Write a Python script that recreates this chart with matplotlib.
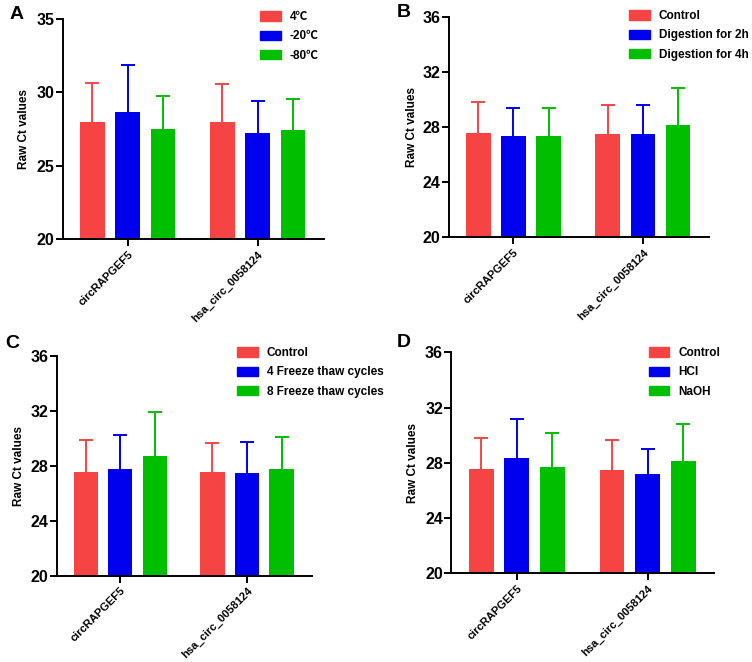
import matplotlib
matplotlib.use("Agg")
import matplotlib.pyplot as plt
import numpy as np
from matplotlib.patches import Patch

plt.rcParams['font.family'] = ['Liberation Sans', 'Noto Sans CJK SC', 'DejaVu Sans']
plt.rcParams['font.weight'] = 'bold'

genes = ["circRAPGEF5", "hsa_circ_0058124"]
colors = ["#F64444", "#0000EE", "#00BE00"]

# Panel A
labels_a = ["4℃", "-20℃", "-80℃"]
means_a = [[28.0, 27.98], [28.69, 27.22], [27.53, 27.42]]
tops_a = [[30.64, 30.6], [31.87, 29.39], [29.78, 29.53]]
# Panel B
labels_b = ["Control", "Digestion for 2h", "Digestion for 4h"]
means_b = [[27.54, 27.49], [27.35, 27.49], [27.35, 28.14]]
tops_b = [[29.79, 29.62], [29.4, 29.62], [29.4, 30.85]]
# Panel C
labels_c = ["Control", "4 Freeze thaw cycles", "8 Freeze thaw cycles"]
means_c = [[27.56, 27.52], [27.73, 27.49], [28.73, 27.73]]
tops_c = [[29.84, 29.65], [30.23, 29.7], [31.93, 30.06]]
# Panel D
labels_d = ["Control", "HCl", "NaOH"]
means_d = [[27.53, 27.48], [28.37, 27.17], [27.7, 28.16]]
tops_d = [[29.77, 29.63], [31.2, 29.03], [30.18, 30.83]]

yticks_a = [20, 25, 30, 35]
yticks_other = [20, 24, 28, 32, 36]

W, H = 752, 662
fig = plt.figure(figsize=(W / 100, H / 100), dpi=100)


def axes_px(l, t, r, b):
    return fig.add_axes([l / W, 1 - b / H, (r - l) / W, (b - t) / H])


def draw(ax, means, tops, labels, yticks, letter, letter_xy, ylabel_x, leg_xy):
    x = np.arange(len(genes))
    offs = [-0.272, 0.0, 0.272]
    width = 0.19
    for i in range(3):
        m = np.array(means[i])
        t = np.array(tops[i])
        ax.bar(x + offs[i], m - yticks[0], width, bottom=yticks[0], color=colors[i],
               edgecolor='none', zorder=2)
        ax.vlines(x + offs[i], m, t, colors=colors[i], linewidth=1.4, zorder=1)
        ax.plot(x + offs[i], t, linestyle='none', marker='_', markersize=9.5,
                markeredgewidth=1.4, color=colors[i], zorder=1)
    ax.set_xlim(-0.5, 1.51)
    ax.set_ylim(yticks[0], yticks[-1])
    ax.set_yticks(yticks)
    ax.set_yticklabels([str(v) for v in yticks], fontsize=11.5, fontweight='bold')
    ax.set_xticks(x)
    ax.set_xticklabels(genes, rotation=45, ha='right', rotation_mode='anchor',
                       fontsize=8.0, fontweight='bold')
    for s in ['top', 'right']:
        ax.spines[s].set_visible(False)
    for s in ['left', 'bottom']:
        ax.spines[s].set_linewidth(1.4)
    ax.tick_params(axis='both', width=1.4, length=5, direction='out', pad=1.0)
    ax.tick_params(axis='x', pad=2)
    ax.set_ylabel("Raw Ct values", fontsize=8.5, fontweight='bold')
    ax.yaxis.set_label_coords(
        (ylabel_x - ax.get_position().x0 * W) / (ax.get_position().width * W), 0.5)
    fig.text(letter_xy[0] / W, 1 - letter_xy[1] / H, letter, fontsize=14,
             fontweight='bold', ha='left', va='top')
    handles = [Patch(facecolor=c, edgecolor=c) for c in colors]
    fig.legend(handles, labels, loc='upper left',
               bbox_to_anchor=(leg_xy[0] / W, 1 - leg_xy[1] / H),
               frameon=False, prop={'weight': 'bold', 'size': 8.5},
               handlelength=1.75, handleheight=0.85, handletextpad=0.75,
               labelspacing=0.62, borderaxespad=0, borderpad=0)


axA = axes_px(62.7, 19, 324, 239.3)
draw(axA, means_a, tops_a, labels_a, yticks_a, "A", (10, 6), 30, (260, 11))
axB = axes_px(448.7, 16.7, 709, 237.3)
draw(axB, means_b, tops_b, labels_b, yticks_other, "B", (397, 4), 417.7, (629, 10))
axC = axes_px(56.7, 355.7, 311.7, 575.7)
draw(axC, means_c, tops_c, labels_c, yticks_other, "C", (5, 335), 25, (237, 347))
axD = axes_px(451.3, 352.3, 714.3, 573.3)
draw(axD, means_d, tops_d, labels_d, yticks_other, "D", (397, 334), 419.3, (648.7, 347))

fig.savefig("out.png", dpi=100)
